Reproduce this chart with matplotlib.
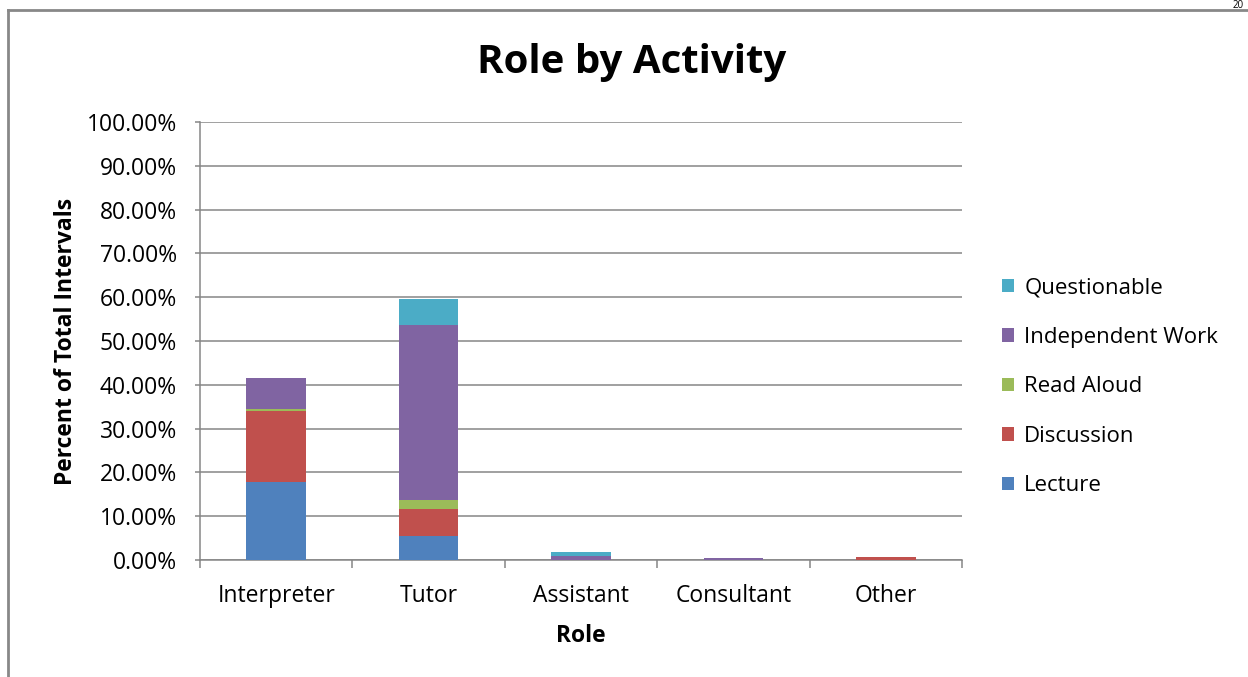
import matplotlib
matplotlib.use("Agg")
import matplotlib.pyplot as plt
from matplotlib.lines import Line2D
import numpy as np

roles = ["Interpreter", "Tutor", "Assistant", "Consultant", "Other"]
series = ["Lecture", "Discussion", "Read Aloud", "Independent Work", "Questionable"]
lecture = [17.7, 5.5, 0.0, 0.0, 0.0]
discussion = [16.4, 6.1, 0.0, 0.0, 0.6]
read_aloud = [0.4, 2.2, 0.0, 0.0, 0.0]
independent = [7.0, 39.8, 0.9, 0.4, 0.1]
questionable = [0.0, 5.9, 0.9, 0.0, 0.0]
yticks = [0, 10, 20, 30, 40, 50, 60, 70, 80, 90, 100]

colors = ["#4F81BD", "#C0504D", "#9BBB59", "#8064A2", "#4BACC6"]
values = [lecture, discussion, read_aloud, independent, questionable]

plt.rcParams['font.family'] = ['Open Sans', 'DejaVu Sans']
FS = 16.5
W, H = 1248, 677
fig = plt.figure(figsize=(W/100, H/100), dpi=100)
ax = fig.add_axes([200/W, 1-560/H, 762/W, 438/H])

x = np.arange(len(roles))
bottom = np.zeros(len(roles))
handles = []
for name, vals, c in zip(series, values, colors):
    b = ax.bar(x, vals, 0.39, bottom=bottom, color=c, label=name, zorder=3,
               edgecolor='none')
    handles.append(b)
    bottom += np.array(vals)

ax.set_xlim(-0.5, 4.5)
ax.set_ylim(0, 100)
ax.set_yticks(yticks)
ax.set_yticklabels([f"{v:.2f}%" for v in yticks], fontsize=FS)
ax.yaxis.grid(True, color="#868686", linewidth=1.1, zorder=0)
ax.set_xticks(x)
ax.set_xticklabels(roles, fontsize=FS)
ax.tick_params(axis='x', length=0, pad=17)
ax.set_xticks(np.arange(-0.5, 5.0, 1.0), minor=True)
ax.tick_params(axis='x', which='minor', length=6, color="#868686", width=1.1)
ax.tick_params(axis='y', length=3.6, color="#868686", width=1.1, pad=13)
for s in ['top', 'right']:
    ax.spines[s].set_visible(False)
for s in ['left', 'bottom']:
    ax.spines[s].set_color("#868686")
    ax.spines[s].set_linewidth(1.1)

ax.set_xlabel("Role", fontsize=FS, fontweight='bold', labelpad=12)
ax.set_ylabel("Percent of Total Intervals", fontsize=FS, fontweight='bold', labelpad=6)
fig.text(632/W, 1-62/H, "Role by Activity", fontsize=29, fontweight='bold', ha='center', va='center')

leg = fig.legend(handles[::-1], series[::-1], loc='center left',
                 bbox_to_anchor=(982/W, 1-387/H), frameon=False, fontsize=16,
                 handlelength=0.55, handleheight=0.55, labelspacing=1.28, handletextpad=0.45)

# outer frame
fig.add_artist(Line2D([8/W, 8/W], [1-10/H, 0], transform=fig.transFigure, color="#888888", linewidth=2))
fig.add_artist(Line2D([8/W, 1], [1-10/H, 1-10/H], transform=fig.transFigure, color="#888888", linewidth=2))
fig.text(1244/W, 1.0, "20", fontsize=7, ha='right', va='top')

fig.savefig("out.png", dpi=100)
